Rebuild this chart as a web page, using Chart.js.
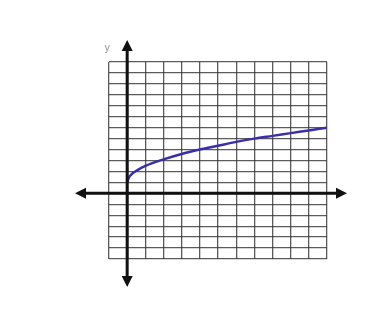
<!DOCTYPE html>
<html>
<head>
<meta charset="utf-8">
<script src="https://cdn.jsdelivr.net/npm/chart.js@4"></script>
<style>
  html, body { margin: 0; padding: 0; background: #fff; }
  #wrap { width: 379px; height: 323px; position: relative; }
  canvas { filter: blur(0.5px); }
</style>
</head>
<body>
<div id="wrap"><canvas id="graph"></canvas></div>
<script>
// grid extents (units)
const xRange = [-1, 11];
const yRange = [-6, 12];

// curve
const curveX = [0, 0.1, 0.25, 0.5, 1, 2, 3, 4, 5, 6, 7, 8, 9, 10, 11];
const curveY = [1, 1.45, 1.75, 2.05, 2.5, 3.1, 3.6, 4.0, 4.35, 4.7, 5.0, 5.25, 5.5, 5.75, 6.0];

const points = curveX.map((x, i) => ({x: x, y: curveY[i]}));

// thick black axes with arrowheads, drawn on the origin lines
const axesArrows = {
  id: 'axesArrows',
  afterDatasetsDraw(chart) {
    const {ctx, chartArea: a, scales: {x, y}} = chart;
    const ox = x.getPixelForValue(0);
    const oy = y.getPixelForValue(0);
    const ends = {left: a.left - 34, right: a.right + 20, top: a.top - 22, bottom: a.bottom + 28};
    ctx.save();
    ctx.strokeStyle = '#111';
    ctx.fillStyle = '#111';
    ctx.lineWidth = 3;
    ctx.beginPath();
    ctx.moveTo(ends.left + 6, oy);
    ctx.lineTo(ends.right - 6, oy);
    ctx.moveTo(ox, ends.top + 6);
    ctx.lineTo(ox, ends.bottom - 6);
    ctx.stroke();
    const head = (tx, ty, dx, dy) => {
      const len = 11, half = 5.5;
      ctx.beginPath();
      ctx.moveTo(tx, ty);
      ctx.lineTo(tx - dx * len - dy * half, ty - dy * len - dx * half);
      ctx.lineTo(tx - dx * len + dy * half, ty - dy * len + dx * half);
      ctx.closePath();
      ctx.fill();
    };
    head(ends.left, oy, -1, 0);
    head(ends.right, oy, 1, 0);
    head(ox, ends.top, 0, -1);
    head(ox, ends.bottom, 0, 1);
    // faint axis label
    ctx.fillStyle = '#999';
    ctx.font = '10px "DejaVu Sans"';
    ctx.textAlign = 'center';
    ctx.textBaseline = 'middle';
    ctx.fillText('y', ox - 20, ends.top + 8);
    ctx.restore();
  }
};

new Chart(document.getElementById('graph'), {
  type: 'line',
  data: {
    datasets: [{
      data: points,
      borderColor: 'rgb(58, 46, 170)',
      borderWidth: 2.5,
      pointRadius: 0,
      cubicInterpolationMode: 'monotone',
      fill: false
    }]
  },
  options: {
    responsive: true,
    maintainAspectRatio: false,
    animation: false,
    layout: {
      padding: {left: 109, right: 52, top: 62, bottom: 64}
    },
    plugins: {
      legend: {display: false},
      tooltip: {enabled: false}
    },
    scales: {
      x: {
        type: 'linear',
        min: xRange[0],
        max: xRange[1],
        ticks: {display: false, stepSize: 1},
        grid: {color: 'rgba(50,50,50,0.8)', lineWidth: 1.3, drawTicks: false},
        border: {display: false}
      },
      y: {
        type: 'linear',
        min: yRange[0],
        max: yRange[1],
        ticks: {display: false, stepSize: 1},
        grid: {color: 'rgba(50,50,50,0.8)', lineWidth: 1.3, drawTicks: false},
        border: {display: false}
      }
    }
  },
  plugins: [axesArrows]
});
</script>
</body>
</html>
